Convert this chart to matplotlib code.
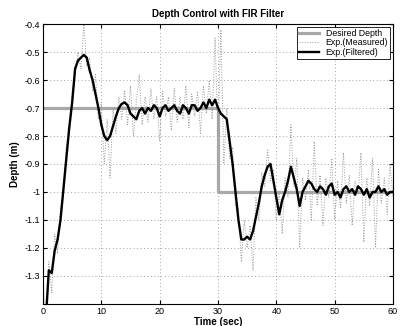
import numpy as np
import matplotlib
matplotlib.use('Agg')
import matplotlib.pyplot as plt

plt.rcParams['font.family'] = ['Liberation Sans', 'DejaVu Sans']

# temps (s), pas de 0.5 s
temps = np.arange(0, 60.5, 0.5)

# consigne de profondeur
t_consigne = [0, 30, 30, 60]
consigne = [-0.7, -0.7, -1.0, -1.0]

# profondeur mesuree (bruitee)
mesure = [
    -1.30, -1.50, -1.25, -1.36, -1.15, -1.22, -1.05, -1.02, -0.83, -0.80,
    -0.64, -0.58, -0.50, -0.56, -0.40, -0.55, -0.52, -0.64, -0.58, -0.74,
    -0.68, -0.90, -0.74, -0.95, -0.70, -0.79, -0.66, -0.74, -0.64, -0.76,
    -0.62, -0.80, -0.68, -0.58, -0.76, -0.66, -0.75, -0.63, -0.74, -0.66,
    -0.82, -0.64, -0.73, -0.66, -0.78, -0.63, -0.75, -0.66, -0.74, -0.62,
    -0.77, -0.65, -0.73, -0.64, -0.79, -0.62, -0.72, -0.60, -0.74, -0.45,
    -0.80, -0.42, -0.90, -0.70, -0.88, -0.84, -1.05, -1.06, -1.25, -1.10,
    -1.20, -1.12, -1.28, -1.02, -1.10, -0.93, -0.98, -0.85, -0.96, -0.92,
    -1.10, -1.00, -1.15, -0.95, -1.02, -0.76, -0.98, -0.88, -1.20, -0.95,
    -1.03, -0.92, -1.10, -0.82, -1.05, -0.94, -1.12, -0.95, -1.02, -0.88,
    -1.10, -0.96, -1.06, -0.86, -1.04, -0.94, -1.12, -0.96, -1.01, -0.86,
    -1.18, -0.95, -1.05, -0.88, -1.20, -0.92, -1.04, -0.95, -1.08, -0.90,
    -1.02]

# profondeur filtree
filtre = [
    -1.55, -1.45, -1.28, -1.29, -1.21, -1.17, -1.10, -0.99, -0.88, -0.77,
    -0.68, -0.56, -0.53, -0.52, -0.51, -0.52, -0.565, -0.60, -0.65, -0.70,
    -0.76, -0.80, -0.815, -0.80, -0.765, -0.73, -0.70, -0.685, -0.68, -0.69,
    -0.72, -0.73, -0.74, -0.71, -0.70, -0.72, -0.70, -0.71, -0.69, -0.70,
    -0.73, -0.70, -0.69, -0.71, -0.70, -0.69, -0.71, -0.72, -0.69, -0.70,
    -0.72, -0.69, -0.69, -0.71, -0.70, -0.68, -0.70, -0.67, -0.69, -0.67,
    -0.70, -0.72, -0.73, -0.74, -0.82, -0.90, -1.00, -1.10, -1.17, -1.17,
    -1.16, -1.17, -1.14, -1.09, -1.04, -0.98, -0.94, -0.91, -0.90, -0.96,
    -1.02, -1.08, -1.03, -1.00, -0.96, -0.91, -0.95, -0.99, -1.05, -1.00,
    -0.98, -0.96, -0.97, -0.99, -1.00, -0.98, -0.99, -1.01, -0.98, -0.97,
    -1.01, -1.00, -1.02, -0.99, -0.98, -1.00, -0.99, -1.01, -0.98, -0.99,
    -1.01, -0.99, -1.02, -1.00, -1.00, -0.98, -1.00, -0.99, -1.01, -1.00,
    -1.00]

xticks = [0, 10, 20, 30, 40, 50, 60]
yticks = [-1.3, -1.2, -1.1, -1.0, -0.9, -0.8, -0.7, -0.6, -0.5, -0.4]
ylabels = ['-1.3', '-1.2', '-1.1', '-1', '-0.9', '-0.8', '-0.7', '-0.6', '-0.5', '-0.4']

fig = plt.figure(figsize=(4.0, 3.26), dpi=100)
ax = fig.add_axes([0.1075, 0.068, 0.875, 0.858])

ax.plot(t_consigne, consigne, color='#a8a8a8', lw=2.3, label='Desired Depth')
ax.plot(temps, mesure, color='#999999', lw=0.7, ls=':', label='Exp.(Measured)')
ax.plot(temps, filtre, color='black', lw=1.7, label='Exp.(Filtered)')

ax.set_xlim(0, 60)
ax.set_ylim(-1.4, -0.4)
ax.set_xticks(xticks)
ax.set_yticks(yticks)
ax.set_yticklabels(ylabels)
ax.tick_params(direction='in', labelsize=6.5, length=3, top=True, right=True, pad=2)
ax.grid(True, color='#555555', ls=(0, (1, 4)), lw=0.5)

ax.set_title('Depth Control with FIR Filter', fontsize=7, fontweight='bold', pad=5)
ax.set_xlabel('Time (sec)', fontsize=7, fontweight='bold', labelpad=1)
ax.set_ylabel('Depth (m)', fontsize=7, fontweight='bold', labelpad=3)

leg = ax.legend(loc='upper right', fontsize=6.3, fancybox=False, edgecolor='black',
                framealpha=1, borderaxespad=0.3, handlelength=2.2,
                labelspacing=0.05, borderpad=0.25)
leg.get_frame().set_linewidth(0.6)

fig.savefig('out.png', dpi=100)
